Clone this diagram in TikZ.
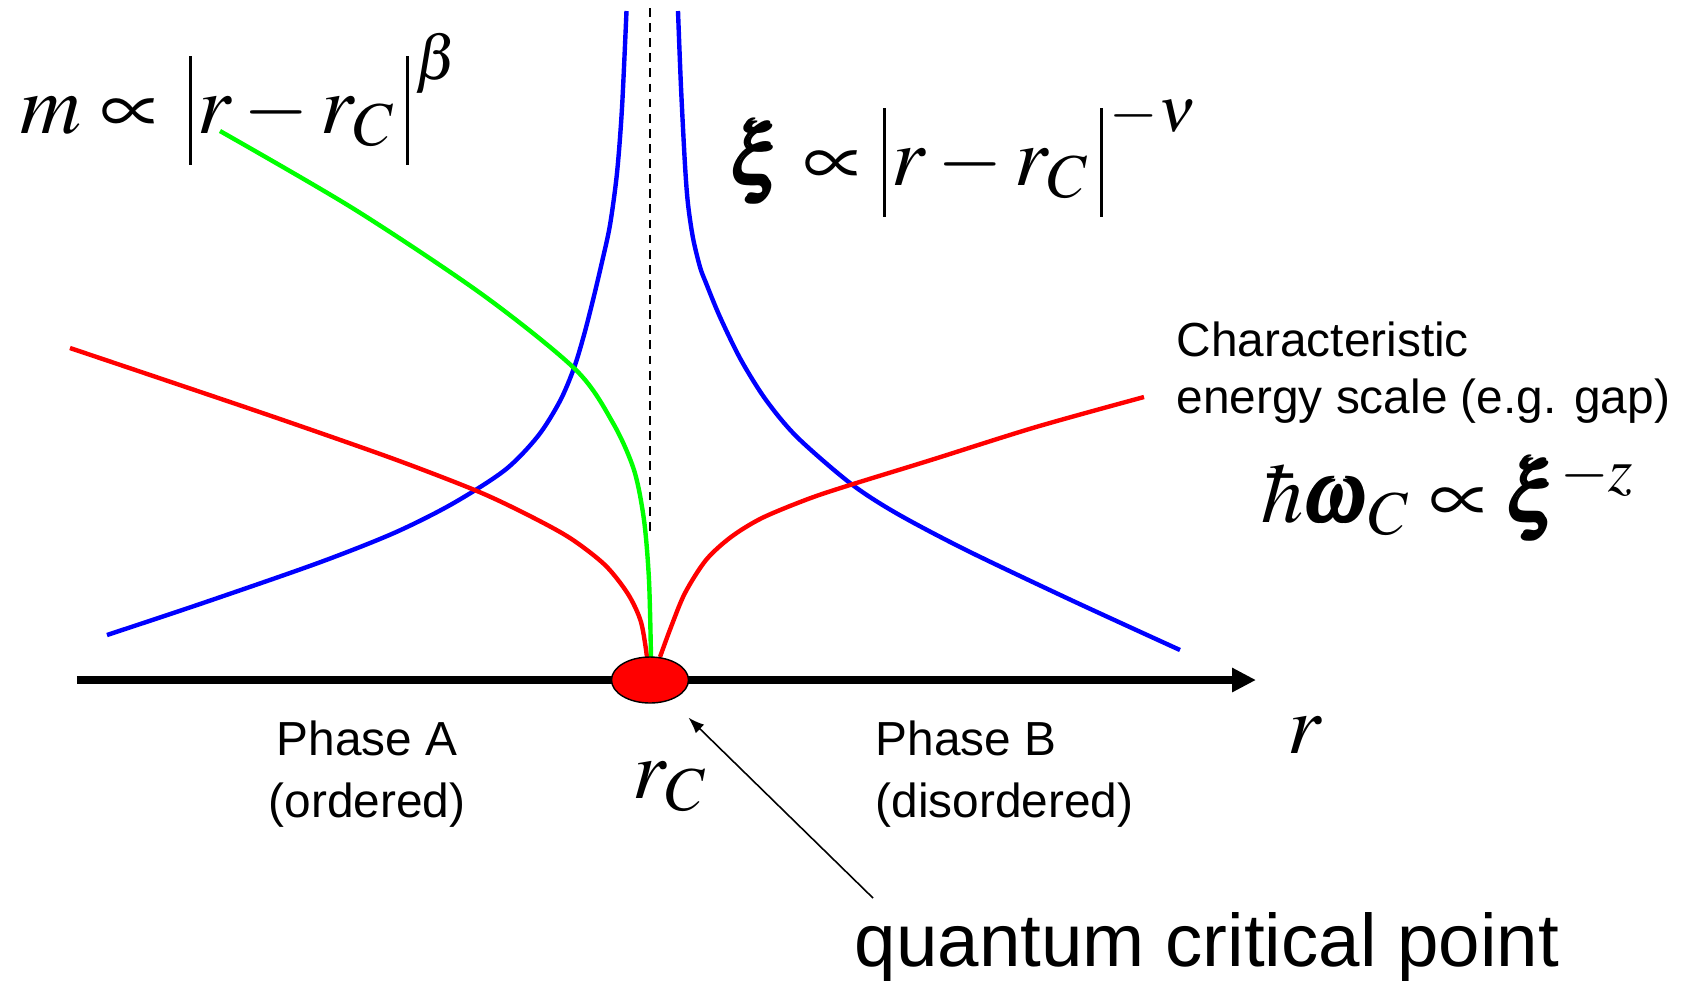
\documentclass[tikz,border=0pt]{standalone}
\usepackage{amsmath, xcolor}
\usepackage{mathptmx}
\usepackage[no-math]{fontspec}
\setmainfont{Liberation Sans}
\usetikzlibrary{arrows.meta, shapes.geometric}
\newcommand\fmlsize{\fontsize{24}{28}\selectfont}
\newcommand\lblsize{\fontsize{13.6}{16}\selectfont}
% tall bars of |r - r_C|
\newcommand\absbar{\rule[-9pt]{0.9pt}{31pt}}
\newcommand\lbar{\mathopen{\absbar\kern1.5pt}}
\newcommand\rbar{\mathclose{\kern3pt\absbar\kern2pt}}
\tikzset{
  curve/.style = {line width=1.25pt},
  fml/.style = {inner sep=0pt, anchor=base west, font=\fmlsize},
  lbl/.style = {inner sep=0pt, anchor=base west, font=\lblsize},
  qcpdot/.style = {ellipse, draw=black, line width=0.4pt, fill=red, minimum width=7.7mm, minimum height=4.6mm, inner sep=0pt},
  axis/.style = {line width=2.2pt, -{Triangle[length=2.4mm, width=2.3mm]}},
  ptr/.style = {line width=0.45pt, -{Latex[length=1.6mm, width=1.2mm]}}
}

\begin{document}
\begin{tikzpicture}
\useasboundingbox (-6.50,-3.00) rectangle (10.33,6.80);

% ----- CURVES -----
% correlation length (diverges at r_C)
\draw[curve, blue] plot[smooth] coordinates {(-5.43,0.45) (-4.47,0.77) (-3.32,1.17) (-2.56,1.47) (-1.98,1.76) (-1.45,2.10) (-1.12,2.44) (-0.90,2.79) (-0.76,3.12) (-0.66,3.45) (-0.57,3.80) (-0.48,4.18) (-0.40,4.55) (-0.33,5.07) (-0.28,5.72) (-0.235,6.69)};
\draw[curve, blue] plot[smooth] coordinates {(0.28,6.69) (0.31,5.93) (0.35,5.15) (0.38,4.76) (0.43,4.42) (0.50,4.13) (0.56,3.97) (0.70,3.63) (0.91,3.20) (1.16,2.80) (1.47,2.43) (2.00,1.97) (2.46,1.67) (3.16,1.30) (4.21,0.80) (5.30,0.30)};
% energy scale
\draw[curve, red] plot[smooth] coordinates {(-5.80,3.32) (-4.85,3.00) (-3.70,2.61) (-2.56,2.21) (-1.73,1.89) (-1.22,1.65) (-0.80,1.42) (-0.45,1.15) (-0.22,0.86) (-0.09,0.58) (-0.03,0.23)};
\draw[curve, red] plot[smooth] coordinates {(0.10,0.23) (0.21,0.53) (0.35,0.87) (0.56,1.20) (0.81,1.43) (1.12,1.62) (1.58,1.81) (2.00,1.95) (2.81,2.20) (3.86,2.53) (4.94,2.83)};
% order parameter
\draw[curve, green] plot[smooth] coordinates {(-4.30,5.49) (-2.96,4.71) (-1.67,3.85) (-0.74,3.10) (-0.37,2.57) (-0.16,2.10) (-0.06,1.60) (-0.01,1.00) (0.01,0.23)};

% dashed line at r_C
\coordinate (dtop) at (0,6.72);
\coordinate (dbot) at (0,1.47);
\draw[line width=0.75pt, dash pattern=on 2.5pt off 1.8pt] (dtop) -- (dbot);

% ----- AXIS -----
\coordinate (ax0) at (-5.73,0);
\coordinate (ax1) at (6.06,0);
\draw[axis] (ax0) -- (ax1);
\node[qcpdot] (qcp) at (0,0) {};

% ----- LABELS -----
\node[fml] (mlaw) at (-6.30,5.47) {$m \propto \mkern2mu \lbar r - r_C \rbar^{\beta}$};
\node[fml] (xilaw) at (0.82,4.95) {$\pmb{\xi} \propto \lbar r - r_C \rbar^{-\nu}$};
\node[fml] (gaplaw) at (6.11,1.58) {$\hbar\pmb{\omega}_C \propto \pmb{\xi}^{-z}$};
\node[fml] (rc) at (-0.18,-1.18) {$r_C$};
\node[fml] (rlbl) at (6.37,-0.73) {$r$};

\node[lbl, align=left] (gaptxt) at (5.26,2.67) {Characteristic\\energy scale (e.g. gap)};
\node[lbl, align=center, anchor=base, font=\fontsize{13.6}{17.5}\selectfont] (phaseA) at (-2.83,-1.37) {Phase A\\(ordered)};
\node[lbl, align=left, font=\fontsize{13.6}{17.5}\selectfont] (phaseB) at (2.25,-1.37) {Phase B\\(disordered)};

\node[inner sep=0pt, anchor=base, font=\fontsize{21.2}{24}\selectfont] (qcptxt) at (5.57,-2.86) {quantum critical point};
\coordinate (qcptail) at (2.23,-2.18);
\draw[ptr, shorten >=2.5mm] (qcptail) -- (qcp);

\end{tikzpicture}
\end{document}
